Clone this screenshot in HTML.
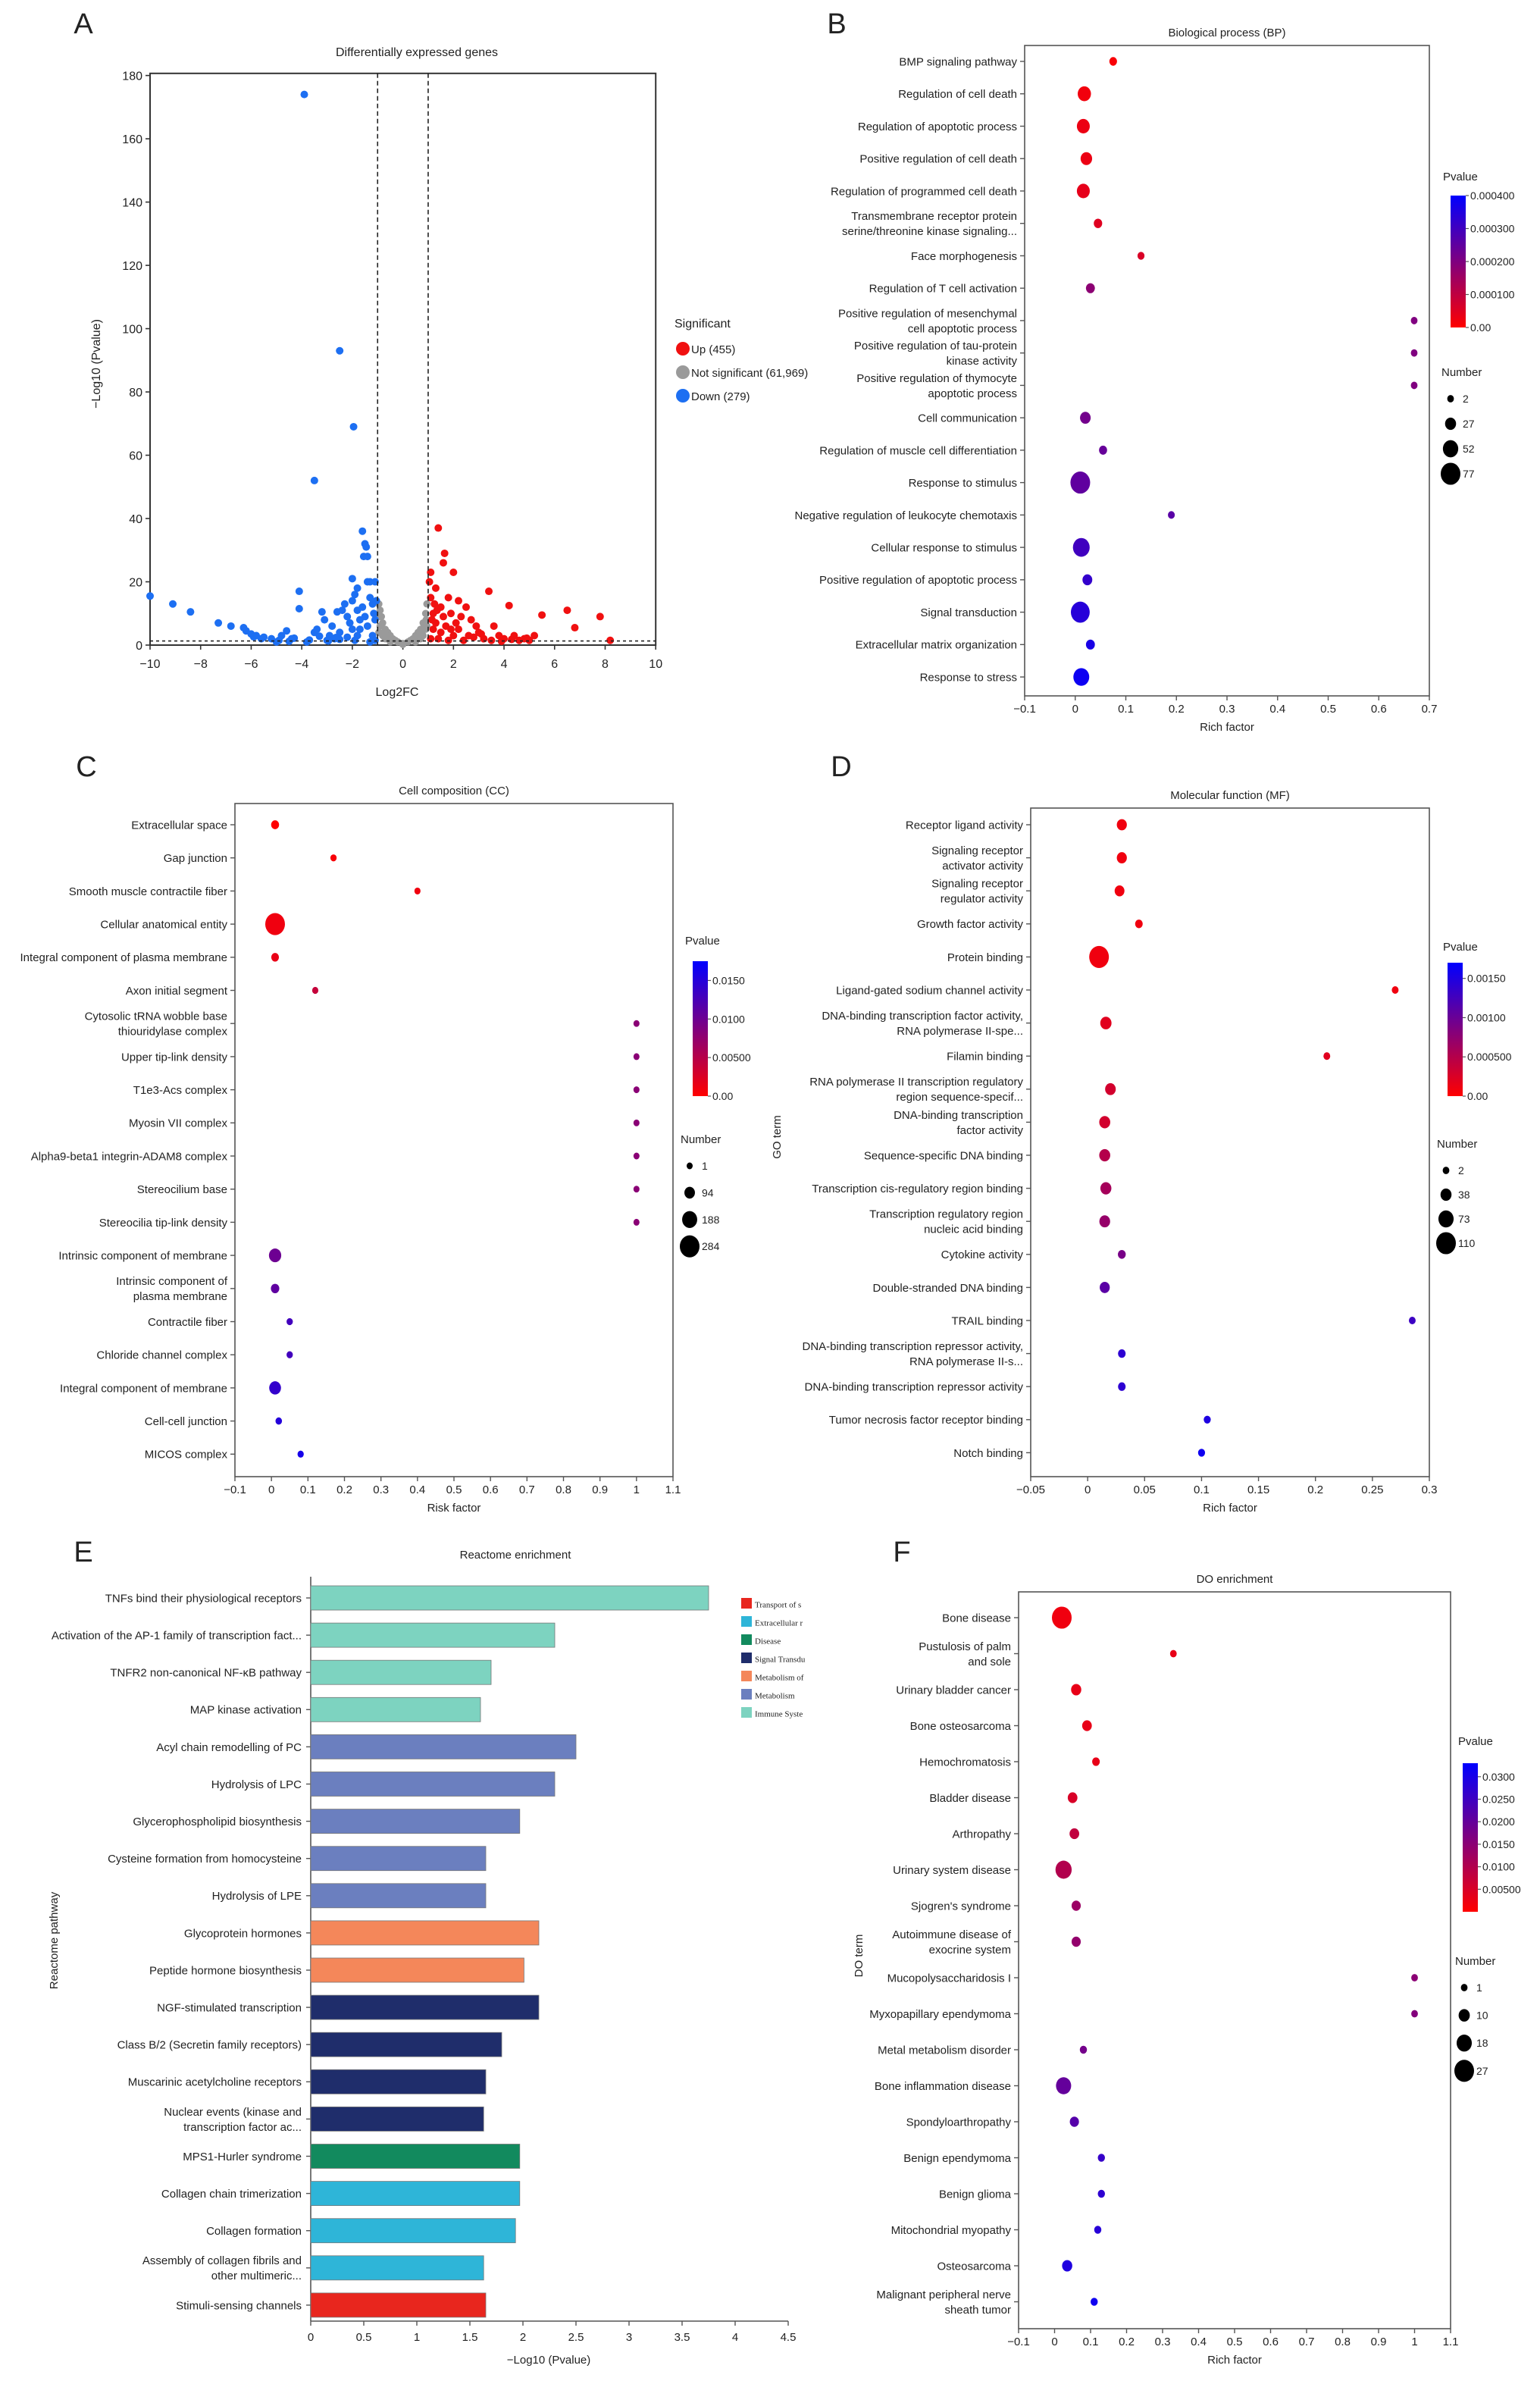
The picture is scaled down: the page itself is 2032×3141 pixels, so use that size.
<!DOCTYPE html>
<html><head><meta charset="utf-8">
<style>
html,body{margin:0;padding:0;background:#fff;}
svg{display:block;font-family:"Liberation Sans",Arial,sans-serif;}
text{fill:#222;}
</style></head>
<body>
<svg id="fig" xmlns="http://www.w3.org/2000/svg" width="2032" height="3141" viewBox="0 0 1016 1570.5">
<defs>
<linearGradient id="pgrad" x1="0" y1="0" x2="0" y2="1"><stop offset="0" stop-color="#0000ff"/><stop offset="1" stop-color="#ff0000"/></linearGradient>
</defs>
<rect width="1016" height="1570.5" fill="#fff"/>
<g id="root"></g>
</svg>
<script>
// ---------- Panel A data ----------
const aDownX=[-10,-9.1,-8.4,-7.3,-6.8,-6.3,-6.2,-6,-5.8,-5.5,-5.2,-4.8,-4.6,-4.4,-4.1,-4.1,-3.9,-3.5,-3.5,-3.4,-3.2,-3.1,-2.9,-2.8,-2.6,-2.5,-2.5,-2.4,-2.3,-2.2,-2.1,-2,-2,-1.95,-1.9,-1.8,-1.8,-1.7,-1.6,-1.55,-1.5,-1.45,-1.4,-1.4,-1.3,-1.3,-1.2,-1.1,-1.1,-1.05,-1.5,-1.6,-2.7,-3,-3.8,-4.5,-5,-1.2,-1.4,-1.8,-2.2,-1.1,-1.3,-2.0,-1.7,-1.15,-1.9,-2.5,-5.6,-5.9,-4.9,-4.3,-3.7,-3.3,-2.95,-2.65];
const aDownY=[15.5,13,10.5,7,6,5.5,4.5,3.5,3,2.5,2,3,4.5,2,17,11.5,174,52,4,5,10.5,8,3,6,10.5,93,4,11,13,9,7,14,21,69,16,18,11,5,36,28,32,31,28,20,15,20,13,20,8,14,9,12,2,1.5,1,1.2,1,3,6,3,2.5,1.5,1,5,8,10,1.5,1.8,2,2.6,1.5,2.2,1.6,2.8,1.3,2.4];
const aUpX=[1.05,1.1,1.1,1.2,1.3,1.4,1.5,1.6,1.65,1.8,1.9,2,2.2,2.3,2.5,2.7,2.9,3,3.4,3.6,3.8,4.2,4.4,4.8,5.2,5.5,6.5,6.8,7.8,8.2,1.2,1.3,1.5,1.7,2,2.2,2.6,3.2,4,5,1.1,1.4,1.8,2.4,3.5,4.6,1.25,1.6,2.1,1.9,2.8,3.1,3.9,4.3,4.9,1.15,1.35];
const aUpY=[20,23,15,10,18,37,12,26,29,15,10,23,14,9,12,8,6,4,17,6,3,12.5,3,2,3,9.5,11,5.5,9,1.5,5,7,4,6,3,5,3,2,2,1.5,2,2,1.5,1.5,1.5,1.5,13,9,7,5,2.5,3.5,1.2,1.8,2.2,8,11];
const aNsX=[-0.95,-0.9,-0.85,-0.8,-0.7,-0.6,-0.5,-0.4,-0.3,-0.2,0,0.2,0.3,0.4,0.5,0.6,0.7,0.8,0.9,0.95,-0.9,-0.8,-0.7,0.8,0.7,0.9,-0.95,0.95,0,-0.5,0.5,-0.92,0.92,-0.75,0.75,-0.65,0.65];
const aNsY=[13,11,9,7,5,4,3,2,1.5,1,0.5,1,1.5,2,3,4,5,7,10,13,6,3,2,3,2,5,4,6,0.2,1,1,9,8,4,5,3,3];
const aXTicks=[-10,-8,-6,-4,-2,0,2,4,6,8,10];
const aYTicks=[0,20,40,60,80,100,120,140,160,180];
const aLegend=["Up (455)","Not significant (61,969)","Down (279)"];

// ---------- Panel B data ----------
const bTerms=["BMP signaling pathway","Regulation of cell death","Regulation of apoptotic process","Positive regulation of cell death","Regulation of programmed cell death","Transmembrane receptor protein|serine/threonine kinase signaling...","Face morphogenesis","Regulation of T cell activation","Positive regulation of mesenchymal|cell apoptotic process","Positive regulation of tau-protein|kinase activity","Positive regulation of thymocyte|apoptotic process","Cell communication","Regulation of muscle cell differentiation","Response to stimulus","Negative regulation of leukocyte chemotaxis","Cellular response to stimulus","Positive regulation of apoptotic process","Signal transduction","Extracellular matrix organization","Response to stress"];
const bRich=[0.075,0.018,0.016,0.022,0.016,0.045,0.13,0.03,0.67,0.67,0.67,0.02,0.055,0.01,0.19,0.012,0.024,0.01,0.03,0.012];
const bCount=[8,40,38,30,38,12,4,15,2,2,2,25,10,77,3,60,20,72,15,55];
const bPval=[0.00001,0.00002,0.00003,0.00003,0.00004,0.00005,0.00006,0.00018,0.0002,0.0002,0.0002,0.00022,0.00024,0.00025,0.00026,0.0003,0.00032,0.00034,0.00036,0.00038];
const bXTicks=[-0.1,0,0.1,0.2,0.3,0.4,0.5,0.6,0.7];
const bPTicks=[0.0004,0.0003,0.0002,0.0001,0];
const bPLabels=["0.000400","0.000300","0.000200","0.000100","0.00"];
const bNTicks=[2,27,52,77];

// ---------- Panel C data ----------
const cTerms=["Extracellular space","Gap junction","Smooth muscle contractile fiber","Cellular anatomical entity","Integral component of plasma membrane","Axon initial segment","Cytosolic tRNA wobble base|thiouridylase complex","Upper tip-link density","T1e3-Acs complex","Myosin VII complex","Alpha9-beta1 integrin-ADAM8 complex","Stereocilium base","Stereocilia tip-link density","Intrinsic component of membrane","Intrinsic component of|plasma membrane","Contractile fiber","Chloride channel complex","Integral component of membrane","Cell-cell junction","MICOS complex"];
const cRich=[0.01,0.17,0.4,0.01,0.01,0.12,1,1,1,1,1,1,1,0.01,0.01,0.05,0.05,0.01,0.02,0.08];
const cCount=[40,5,3,284,35,4,1,1,1,1,1,1,1,130,50,6,6,120,10,5];
const cPval=[0.0001,0.0005,0.001,0.001,0.0015,0.004,0.008,0.008,0.008,0.008,0.008,0.008,0.008,0.01,0.011,0.013,0.013,0.014,0.015,0.016];
const cXTicks=[-0.1,0,0.1,0.2,0.3,0.4,0.5,0.6,0.7,0.8,0.9,1,1.1];
const cPTicks=[0.015,0.01,0.005,0];
const cPLabels=["0.0150","0.0100","0.00500","0.00"];
const cNTicks=[1,94,188,284];

// ---------- Panel D data ----------
const dTerms=["Receptor ligand activity","Signaling receptor|activator activity","Signaling receptor|regulator activity","Growth factor activity","Protein binding","Ligand-gated sodium channel activity","DNA-binding transcription factor activity,|RNA polymerase II-spe...","Filamin binding","RNA polymerase II transcription regulatory|region sequence-specif...","DNA-binding transcription|factor activity","Sequence-specific DNA binding","Transcription cis-regulatory region binding","Transcription regulatory region|nucleic acid binding","Cytokine activity","Double-stranded DNA binding","TRAIL binding","DNA-binding transcription repressor activity,|RNA polymerase II-s...","DNA-binding transcription repressor activity","Tumor necrosis factor receptor binding","Notch binding"];
const dRich=[0.03,0.03,0.028,0.045,0.01,0.27,0.016,0.21,0.02,0.015,0.015,0.016,0.015,0.03,0.015,0.285,0.03,0.03,0.105,0.1];
const dCount=[30,30,28,10,110,3,40,3,35,38,38,38,36,12,30,3,10,10,5,5];
const dPval=[0.0001,0.0001,0.0001,0.0001,0.0001,0.0001,0.0002,0.0002,0.0003,0.0003,0.0005,0.0006,0.0007,0.0009,0.0011,0.0013,0.0014,0.0014,0.0015,0.0016];
const dXTicks=[-0.05,0,0.05,0.1,0.15,0.2,0.25,0.3];
const dPTicks=[0.0015,0.001,0.0005,0];
const dPLabels=["0.00150","0.00100","0.000500","0.00"];
const dNTicks=[2,38,73,110];

// ---------- Panel E data ----------
const eTerms=["TNFs bind their physiological receptors","Activation of the AP-1 family of transcription fact...","TNFR2 non-canonical NF-\u03baB pathway","MAP kinase activation","Acyl chain remodelling of PC","Hydrolysis of LPC","Glycerophospholipid biosynthesis","Cysteine formation from homocysteine","Hydrolysis of LPE","Glycoprotein hormones","Peptide hormone biosynthesis","NGF-stimulated transcription","Class B/2 (Secretin family receptors)","Muscarinic acetylcholine receptors","Nuclear events (kinase and|transcription factor ac...","MPS1-Hurler syndrome","Collagen chain trimerization","Collagen formation","Assembly of collagen fibrils and|other multimeric...","Stimuli-sensing channels"];
const eValues=[3.75,2.3,1.7,1.6,2.5,2.3,1.97,1.65,1.65,2.15,2.01,2.15,1.8,1.65,1.63,1.97,1.97,1.93,1.63,1.65];
const eGroup=[6,6,6,6,5,5,5,5,5,4,4,3,3,3,3,2,1,1,1,0];
const eGroupNames=["Transport of s","Extracellular r","Disease","Signal Transdu","Metabolism of","Metabolism","Immune Syste"];
const eXTicks=[0,0.5,1,1.5,2,2.5,3,3.5,4,4.5];

// ---------- Panel F data ----------
const fTerms=["Bone disease","Pustulosis of palm|and sole","Urinary bladder cancer","Bone osteosarcoma","Hemochromatosis","Bladder disease","Arthropathy","Urinary system disease","Sjogren's syndrome","Autoimmune disease of|exocrine system","Mucopolysaccharidosis I","Myxopapillary ependymoma","Metal metabolism disorder","Bone inflammation disease","Spondyloarthropathy","Benign ependymoma","Benign glioma","Mitochondrial myopathy","Osteosarcoma","Malignant peripheral nerve|sheath tumor"];
const fRich=[0.02,0.33,0.06,0.09,0.115,0.05,0.055,0.025,0.06,0.06,1,1,0.08,0.025,0.055,0.13,0.13,0.12,0.035,0.11];
const fCount=[27,1,8,7,3,7,7,20,6,6,1,1,2,18,6,2,2,2,8,2];
const fPval=[0.002,0.003,0.003,0.003,0.003,0.005,0.008,0.01,0.013,0.014,0.015,0.016,0.018,0.02,0.022,0.026,0.027,0.028,0.029,0.031];
const fXTicks=[-0.1,0,0.1,0.2,0.3,0.4,0.5,0.6,0.7,0.8,0.9,1,1.1];
const fPTicks=[0.03,0.025,0.02,0.015,0.01,0.005];
const fPLabels=["0.0300","0.0250","0.0200","0.0150","0.0100","0.00500"];
const fNTicks=[1,10,18,27];

const NS="http://www.w3.org/2000/svg";
const root=document.getElementById('root');
function mk(tag,attrs,parent){const e=document.createElementNS(NS,tag);for(const k in attrs)e.setAttribute(k,attrs[k]);(parent||root).appendChild(e);return e;}
function txt(s,x,y,size,anchor,parent,extra){const t=mk('text',Object.assign({x:x,y:y,'font-size':size,'text-anchor':anchor||'start'},extra||{}),parent);t.textContent=s;return t;}
function fmt(v){return String(Math.round(v*1000)/1000);}
function pcolor(p,pmax){const f=Math.max(0,Math.min(1,p/pmax));const r=Math.round(255*(1-f)),b=Math.round(255*f);return `rgb(${r},0,${b})`;}

function panelLetter(s,x,y){const t=txt(s,x,y,19,'middle');}

// ---------- Volcano ----------
(function(){
  const g=mk('g',{});
  
  
  const X0=99,X1=432.6,Y0=425.5,Y1=49.8;
  const sx=v=>X0+(v+10)/20*(X1-X0), sy=v=>Y0-(v/180)*(Y0-Y1);
  panelLetter('A',55,22);
  const t=txt('Differentially expressed genes',275,37,8,'middle',g);
  mk('rect',{x:X0,y:48.4,width:X1-X0,height:Y0-48.4,fill:'none',stroke:'#333','stroke-width':1},g);
  aXTicks.forEach(v=>{mk('line',{x1:sx(v),x2:sx(v),y1:Y0,y2:Y0+3,stroke:'#333','stroke-width':0.8},g);const l=txt(v<0?'\u2212'+(-v):String(v),sx(v),Y0+15,8,'middle',g);});
  aYTicks.forEach(v=>{mk('line',{x1:X0-3,x2:X0,y1:sy(v),y2:sy(v),stroke:'#333','stroke-width':0.8},g);const l=txt(String(v),X0-5,sy(v)+3,8,'end',g);});
  const xl=txt('Log2FC',262,459,8,'middle',g);
  const yl=txt('\u2212Log10 (Pvalue)',0,0,8,'middle',g,{transform:'translate(66,240) rotate(-90)'});
  aNsX.forEach((v,i)=>{const c=mk('circle',{cx:sx(v),cy:sy(aNsY[i]),r:2.4,fill:'#9a9a9a'},g);});
  aDownX.forEach((v,i)=>{const c=mk('circle',{cx:sx(v),cy:sy(aDownY[i]),r:2.5,fill:'#1d6ff2'},g);});
  aUpX.forEach((v,i)=>{const c=mk('circle',{cx:sx(v),cy:sy(aUpY[i]),r:2.5,fill:'#f01010'},g);});
  mk('line',{x1:sx(-1),x2:sx(-1),y1:48.4,y2:Y0,stroke:'#222','stroke-width':0.8,'stroke-dasharray':'3,2'},g);
  mk('line',{x1:sx(1),x2:sx(1),y1:48.4,y2:Y0,stroke:'#222','stroke-width':0.8,'stroke-dasharray':'3,2'},g);
  mk('line',{x1:X0,x2:X1,y1:sy(1.3),y2:sy(1.3),stroke:'#222','stroke-width':0.8,'stroke-dasharray':'2,2'},g);
  const lg=mk('g',{},g);
  txt('Significant',445,216,8,'start',lg);
  const cols=['#f01010','#9a9a9a','#1d6ff2'];
  aLegend.forEach((s,i)=>{const y=230+i*15.5;const c=mk('circle',{cx:450.5,cy:y,r:4.5,fill:cols[i]},lg);txt(s,456,y+3,7.5,'start',lg);});
})();

// ---------- Dot plot helper ----------
function dotPlot(o){
  const g=mk('g',{});
  
  
  const sx=v=>o.bx0+(v-o.xmin)/(o.xmax-o.xmin)*(o.bx1-o.bx0);
  const rowY=i=>o.ry0+i*o.rstep;
  const nmin=o.nticks[0],nmax=o.nticks[o.nticks.length-1];
  const rad=n=>o.rmin+(n-nmin)/(nmax-nmin)*(o.rmax-o.rmin);
  mk('rect',{x:o.bx0,y:o.by0,width:o.bx1-o.bx0,height:o.by1-o.by0,fill:'none',stroke:'#555','stroke-width':0.8},g);
  const t=txt(o.title,(o.bx0+o.bx1)/2,o.by0-6,7.5,'middle',g);
  o.xticks.forEach(v=>{mk('line',{x1:sx(v),x2:sx(v),y1:o.by1,y2:o.by1+3,stroke:'#555','stroke-width':0.7},g);const l=txt(fmt(v).replace('-','\u2212'),sx(v),o.by1+11,7.5,'middle',g);});
  const xl=txt(o.xlabel,(o.bx0+o.bx1)/2,o.by1+23,7.5,'middle',g);
  if(o.ylabel){const yl=txt(o.ylabel,0,0,7.5,'middle',g,{transform:`translate(${o.ylx},${o.yly}) rotate(-90)`});}
  o.terms.forEach((s,i)=>{
    const y=rowY(i);
    mk('line',{x1:o.bx0-3,x2:o.bx0,y1:y,y2:y,stroke:'#555','stroke-width':0.7},g);
    const parts=s.split('|');
    parts.forEach((p,k)=>{const l=txt(p,o.bx0-5,y+2.7+(parts.length>1?(k===0?-5:5):0),7.5,'end',g);});
    const r=rad(o.count[i]);
    const d=mk('ellipse',{cx:sx(o.rich[i]),cy:y,rx:r,ry:r*1.12,fill:pcolor(o.pval[i],o.pmax)},g);
    
    
  });
  // colour legend
  const L=o.leg;
  const cl=mk('g',{},g);
  txt('Pvalue',L.px,L.py,7.5,'start',cl);
  mk('rect',{x:L.bx,y:L.by0,width:10,height:L.by1-L.by0,fill:'url(#pgrad)'},cl);
  const py=p=>L.by1-(p/o.pmax)*(L.by1-L.by0);
  o.pticks.forEach((p,i)=>{mk('line',{x1:L.bx+10,x2:L.bx+12,y1:py(p),y2:py(p),stroke:'#555','stroke-width':0.6},cl);txt(o.plabels[i],L.bx+13,py(p)+2.5,7,'start',cl);});
  const nl=mk('g',{},g);
  txt('Number',L.nx,L.ny,7.5,'start',nl);
  o.nticks.forEach((n,i)=>{const y=L.ny+15+i*L.nstep;const r=rad(n);const e=mk('ellipse',{cx:L.nx+6,cy:y,rx:r,ry:r*1.12,fill:'#000'},nl);txt(String(n),L.nx+14,y+2.5,7,'start',nl);});
}

panelLetter('B',552,22);
dotPlot({name:'bp-dot-plot',title:'Biological process (BP)',bx0:676,bx1:943,by0:30,by1:459,xmin:-0.1,xmax:0.7,ry0:40.5,rstep:21.37,terms:bTerms,rich:bRich,count:bCount,pval:bPval,pmax:0.0004,xticks:bXTicks,xlabel:'Rich factor',rmin:2.2,rmax:6.5,nticks:bNTicks,pticks:bPTicks,plabels:bPLabels,leg:{px:952,py:119,bx:957,by0:129,by1:216,nx:951,ny:248,nstep:16.5}});

panelLetter('C',57,512);
dotPlot({name:'cc-dot-plot',title:'Cell composition (CC)',bx0:155,bx1:444,by0:530,by1:974,xmin:-0.1,xmax:1.1,ry0:544,rstep:21.85,terms:cTerms,rich:cRich,count:cCount,pval:cPval,pmax:0.0175,xticks:cXTicks,xlabel:'Risk factor',rmin:2,rmax:6.5,nticks:cNTicks,pticks:cPTicks,plabels:cPLabels,leg:{px:452,py:623,bx:457,by0:634,by1:723,nx:449,ny:754,nstep:17.7}});

panelLetter('D',555,512);
dotPlot({name:'mf-dot-plot',title:'Molecular function (MF)',bx0:680,bx1:943,by0:533,by1:974,xmin:-0.05,xmax:0.3,ry0:544,rstep:21.8,terms:dTerms,rich:dRich,count:dCount,pval:dPval,pmax:0.0017,xticks:dXTicks,xlabel:'Rich factor',ylabel:'GO term',ylx:515,yly:750,rmin:2.2,rmax:6.5,nticks:dNTicks,pticks:dPTicks,plabels:dPLabels,leg:{px:952,py:627,bx:955,by0:635,by1:723,nx:948,ny:757,nstep:16}});

panelLetter('F',595,1030);
dotPlot({name:'do-dot-plot',title:'DO enrichment',bx0:672,bx1:957,by0:1050,by1:1536,xmin:-0.1,xmax:1.1,ry0:1067,rstep:23.75,terms:fTerms,rich:fRich,count:fCount,pval:fPval,pmax:0.033,xticks:fXTicks,xlabel:'Rich factor',ylabel:'DO term',ylx:569,yly:1290,rmin:2.2,rmax:6.5,nticks:fNTicks,pticks:fPTicks,plabels:fPLabels,leg:{px:962,py:1151,bx:965,by0:1163,by1:1261,nx:960,ny:1296,nstep:18.3}});

// ---------- Panel E: Reactome bars ----------
(function(){
  const g=mk('g',{});
  
  
  panelLetter('E',55,1030);
  const X0=205,per=70,Y0=1054,step=24.55,bh=16,axisY=1531;
  const sx=v=>X0+v*per;
  const cols=['#e8261e','#2eb5d8','#128a5e','#1f2d6b','#f4875a','#6b7fbf','#7dd3c0'];
  const t=txt('Reactome enrichment',340,1028,7.5,'middle',g);
  mk('line',{x1:X0,x2:X0,y1:1040,y2:axisY,stroke:'#555','stroke-width':0.8},g);
  mk('line',{x1:X0,x2:sx(4.5),y1:axisY,y2:axisY,stroke:'#555','stroke-width':0.8},g);
  eXTicks.forEach(v=>{mk('line',{x1:sx(v),x2:sx(v),y1:axisY,y2:axisY+3,stroke:'#555','stroke-width':0.7},g);const l=txt(fmt(v),sx(v),axisY+13,7.5,'middle',g);});
  const xl=txt('\u2212Log10 (Pvalue)',362,1559,7.5,'middle',g);
  const yl=txt('Reactome pathway',0,0,7.5,'middle',g,{transform:'translate(38,1280) rotate(-90)'});
  eTerms.forEach((s,i)=>{
    const y=Y0+i*step;
    mk('line',{x1:X0-3,x2:X0,y1:y,y2:y,stroke:'#555','stroke-width':0.7},g);
    const parts=s.split('|');
    parts.forEach((p,k)=>{const l=txt(p,X0-6,y+2.7+(parts.length>1?(k===0?-5:5):0),7.5,'end',g);});
    const b=mk('rect',{x:X0,y:y-bh/2,width:sx(eValues[i])-X0,height:bh,fill:cols[eGroup[i]],stroke:'#777','stroke-width':0.4},g);
    
    
  });
  const lg=mk('g',{},g);
  eGroupNames.forEach((s,i)=>{const y=1058+i*12;const r=mk('rect',{x:489,y:y-4,width:7,height:7,fill:cols[i]},lg);txt(s,498,y+2.3,5.5,'start',lg,{'font-family':'Liberation Serif, serif'});});
})();
</script>
</body></html>
